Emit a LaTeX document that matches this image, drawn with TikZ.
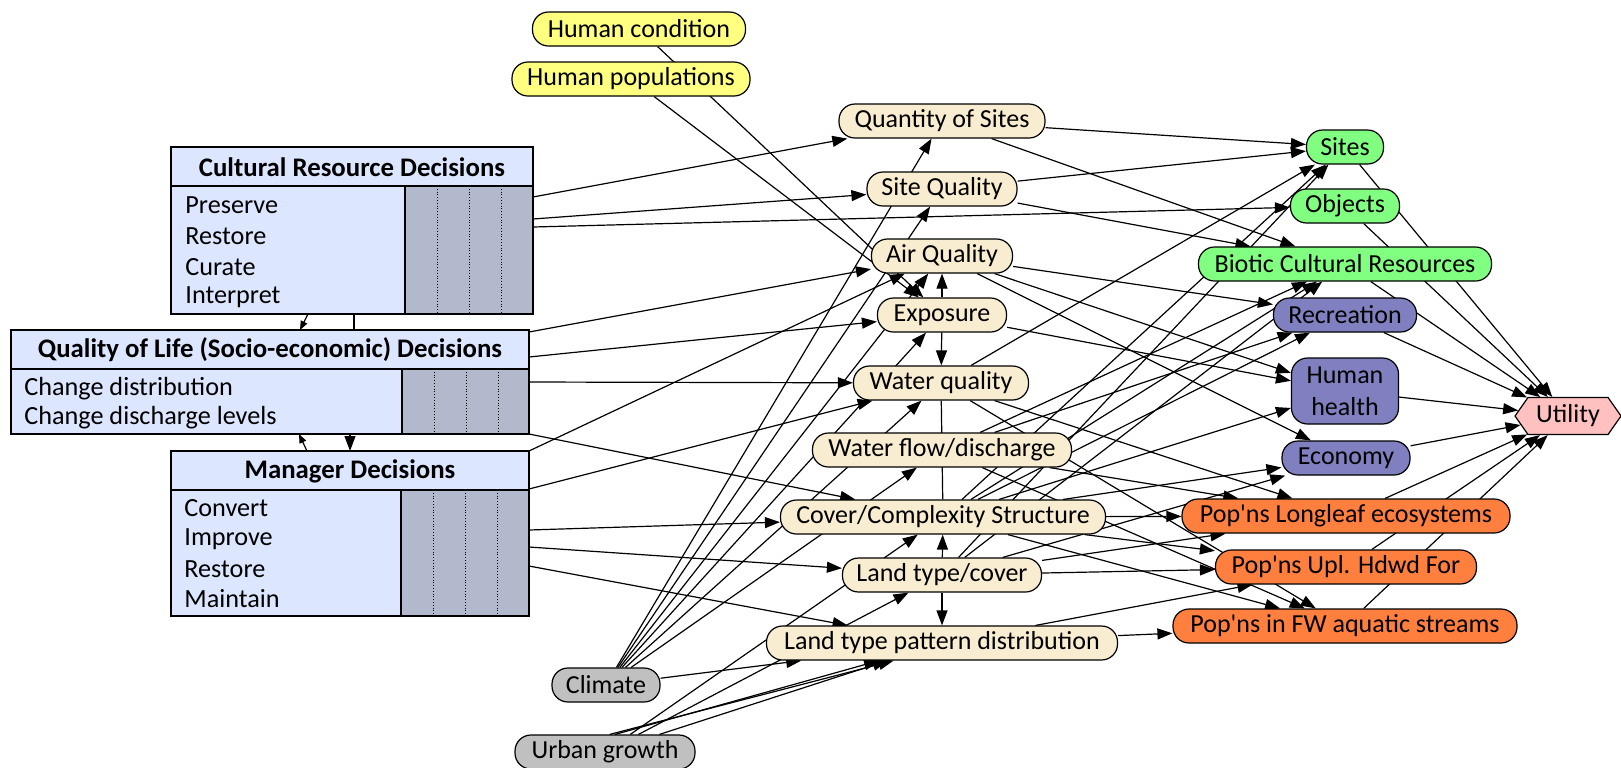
\documentclass[tikz,border=0pt]{standalone}
\usepackage{fontspec}
\setmainfont{Carlito}
\usetikzlibrary{arrows.meta,shapes.symbols}
\pgfdeclarelayer{bg}
\pgfsetlayers{bg,main}
\definecolor{cyel}{HTML}{FFFF80}
\definecolor{cbei}{HTML}{F8EDD0}
\definecolor{cgrn}{HTML}{80FF80}
\definecolor{cpur}{HTML}{8080C0}
\definecolor{corg}{HTML}{FF7F3F}
\definecolor{cgry}{HTML}{C0C0C0}
\definecolor{cpnk}{HTML}{FFC0C0}
\definecolor{cbox}{HTML}{DDE6FF}
\definecolor{cbar}{HTML}{B3B9CC}
\newcommand{\apo}{\textquotesingle}
\begin{document}
\begin{tikzpicture}[x=0.5pt,y=-0.5pt,
  nd/.style={draw=black, line width=0.6pt, rounded corners=8pt, minimum height=17pt, inner sep=0pt, font=\fontsize{13}{16}\selectfont},
  yel/.style={nd, fill=cyel},
  bei/.style={nd, fill=cbei},
  grn/.style={nd, fill=cgrn},
  pur/.style={nd, fill=cpur},
  org/.style={nd, fill=corg},
  gry/.style={nd, fill=cgry},
  hdr/.style={font=\bfseries\fontsize{13.4}{16}\selectfont, inner sep=0pt},
  itm/.style={font=\fontsize{13.1}{16}\selectfont, inner sep=0pt, anchor=west},
  arr/.style={-{Triangle[length=7.5pt,width=5.5pt]}, line width=0.6pt},
  sarr/.style={-{Triangle[length=4.5pt,width=3.5pt]}, line width=0.6pt},
  ln/.style={line width=0.6pt},
  dv/.style={densely dotted, line width=0.4pt}]
\useasboundingbox (0,-2) rectangle (1621,765);

% ---------- decision boxes ----------
\node[fill=cbox, anchor=north west, minimum width=181pt, minimum height=83.5pt, inner sep=0pt] (crd) at (171,145) {};
\fill[cbar] (405,184) rectangle (533,312);
\draw[dv] (437,184) -- (437,312) (469,184) -- (469,312) (501,184) -- (501,312);
\draw[line width=1pt] (171,184) -- (533,184) (405,184) -- (405,312);
\draw[line width=1pt] (171,145) rectangle (533,312);
\node[hdr] (crdh) at (352,165) {Cultural Resource Decisions};
\node[itm] (crd1) at (185,203) {Preserve};
\node[itm] (crd2) at (185,234) {Restore};
\node[itm] (crd3) at (185,265) {Curate};
\node[itm] (crd4) at (185,295) {Interpret};

\node[fill=cbox, anchor=north west, minimum width=259pt, minimum height=52pt, inner sep=0pt] (qol) at (11,328) {};
\fill[cbar] (402,367) rectangle (529,432);
\draw[dv] (434,367) -- (434,432) (466,367) -- (466,432) (498,367) -- (498,432);
\draw[line width=1pt] (11,367) -- (529,367) (402,367) -- (402,432);
\draw[line width=1pt] (11,328) rectangle (529,432);
\node[hdr] (qolh) at (270,348) {Quality of Life (Socio-economic) Decisions};
\node[itm] (qol1) at (24,387) {Change distribution};
\node[itm] (qol2) at (24,416) {Change discharge levels};

\node[fill=cbox, anchor=north west, minimum width=179pt, minimum height=82.5pt, inner sep=0pt] (mgr) at (171,449) {};
\fill[cbar] (401,488) rectangle (529,614);
\draw[dv] (433,488) -- (433,614) (465,488) -- (465,614) (497,488) -- (497,614);
\draw[line width=1pt] (171,488) -- (529,488) (401,488) -- (401,614);
\draw[line width=1pt] (171,449) rectangle (529,614);
\node[hdr] (mgrh) at (350,469) {Manager Decisions};
\node[itm] (mgr1) at (184,506) {Convert};
\node[itm] (mgr2) at (184,537) {Improve};
\node[itm] (mgr3) at (184,567) {Restore};
\node[itm] (mgr4) at (184,597) {Maintain};

% connector end points on the decision boxes
\coordinate (c1) at (533,195);
\coordinate (c2) at (533,217);
\coordinate (c3) at (533,225);
\coordinate (q1) at (529,330);
\coordinate (q2) at (529,355);
\coordinate (q3) at (529,380);
\coordinate (q4) at (529,432);
\coordinate (m1) at (529,449);
\coordinate (m2) at (529,487);
\coordinate (m3) at (529,528);
\coordinate (m4) at (529,545);
\coordinate (m5) at (529,564);
\coordinate (k1s) at (308,312);
\coordinate (k1e) at (300,328);
\coordinate (k2s) at (354,312);
\coordinate (k2e) at (354,328);
\coordinate (k3s) at (307,449);
\coordinate (k3e) at (299,432);
\coordinate (k4s) at (350,432);
\coordinate (k4e) at (350,449);

% ---------- chance nodes ----------
\node[yel, minimum width=106.5pt] (hc) at (639,27) {Human condition};
\node[yel, minimum width=119pt] (hp) at (631,77) {Human populations};

\node[bei, minimum width=103pt] (qs) at (942,119) {Quantity of Sites};
\node[bei, minimum width=75pt] (sq) at (942,187) {Site Quality};
\node[bei, minimum width=70.5pt] (aq) at (942,254) {Air Quality};
\node[bei, minimum width=64.5pt] (ex) at (942,313) {Exposure};
\node[bei, minimum width=87.5pt] (wq) at (941,381) {Water quality};
\node[bei, minimum width=129.5pt] (wf) at (942,448) {Water flow/discharge};
\node[bei, minimum width=162.5pt] (cc) at (943,515) {Cover/Complexity Structure};
\node[bei, minimum width=99.5pt] (lt) at (942,573) {Land type/cover};
\node[bei, minimum width=175.5pt] (lp) at (942,641) {Land type pattern distribution};

\node[gry, minimum width=54pt] (cl) at (606,683) {Climate};
\node[gry, minimum width=90pt] (ug) at (605,750) {Urban growth};

\node[grn, minimum width=38.5pt] (si) at (1345,145) {Sites};
\node[grn, minimum width=54.5pt] (ob) at (1345,204) {Objects};
\node[grn, minimum width=146.5pt] (bc) at (1345,262) {Biotic Cultural Resources};
\node[pur, minimum width=71.5pt] (re) at (1345,313) {Recreation};
\node[pur, minimum width=53.5pt, minimum height=33pt, align=center] (hh) at (1345,389) {Human\\health};
\node[pur, minimum width=64pt] (ec) at (1346,456) {Economy};
\node[org, minimum width=164pt] (pl) at (1346,514) {Pop\apo ns Longleaf ecosystems};
\node[org, minimum width=130.5pt] (pu) at (1346,565) {Pop\apo ns Upl. Hdwd For};
\node[org, minimum width=172pt] (pf) at (1345,624) {Pop\apo ns in FW aquatic streams};

\node[draw=black, line width=0.6pt, fill=cpnk, shape=signal, signal to=east and west, signal pointer angle=110, minimum width=53pt, minimum height=18.5pt, inner sep=0pt, font=\fontsize{13}{16}\selectfont] (ut) at (1568,414) {Utility};

% ---------- connectors ----------
\begin{pgfonlayer}{bg}
\draw[sarr] (k1s) -- (k1e);
\draw[ln] (k2s) -- (k2e);
\draw[sarr] (k3s) -- (k3e);
\draw[arr] (k4s) -- (k4e);

\draw[arr] (c1) -- (qs);
\draw[arr] (c2) -- (sq);
\draw[arr] (c3) -- (ob);
\draw[arr] (q1) -- (aq);
\draw[arr] (q2) -- (ex);
\draw[arr] (q3) -- (wq);
\draw[arr] (q4) -- (cc);
\draw[arr] (m1) -- (aq);
\draw[arr] (m2) -- (wq);
\draw[arr] (m3) -- (cc);
\draw[arr] (m4) -- (lt);
\draw[arr] (m5) -- (lp);

\draw[arr] (hc) -- (ex);
\draw[arr] (hp) -- (ex);

\foreach \t in {qs,sq,aq,ex,wq,wf,lp} \draw[arr] (cl) -- (\t);
\foreach \t in {cc,lt,lp} \draw[arr] (ug) -- (\t);
\draw[arr] (ug.60) -- (lp);
\draw[arr] (ug.75) -- (lp.200);

\draw[arr] (ex) -- (aq);
\draw[arr] (ex) -- (wq);
\draw[ln] (wq) -- (cc);
\draw[arr] (lt) -- (cc);
\draw[arr] (lt) -- (lp);

\draw[arr] (qs) -- (si);
\draw[arr] (qs) -- (bc);
\draw[arr] (sq) -- (si);
\draw[arr] (sq) -- (bc);
\draw[arr] (aq) -- (re);
\draw[arr] (aq) -- (hh);
\draw[arr] (aq) -- (ec);
\draw[arr] (ex) -- (hh);
\draw[arr] (wq) -- (si);
\draw[arr] (wq) -- (pl);
\draw[arr] (wq) -- (pf);
\draw[arr] (wf) -- (bc);
\draw[arr] (wf) -- (re);
\draw[arr] (wf) -- (pl);
\draw[arr] (wf) -- (pf);
\foreach \t in {si,bc,re,hh,ec,pl,pu,pf} \draw[arr] (cc) -- (\t);
\foreach \t in {si,bc,ec,pl,pu} \draw[arr] (lt) -- (\t);
\draw[arr] (lp) -- (pu);
\draw[arr] (lp) -- (pf);

\foreach \s in {si,ob,bc,re,hh,ec,pl,pu,pf} \draw[arr] (\s) -- (ut);
\end{pgfonlayer}
\end{tikzpicture}
\end{document}
